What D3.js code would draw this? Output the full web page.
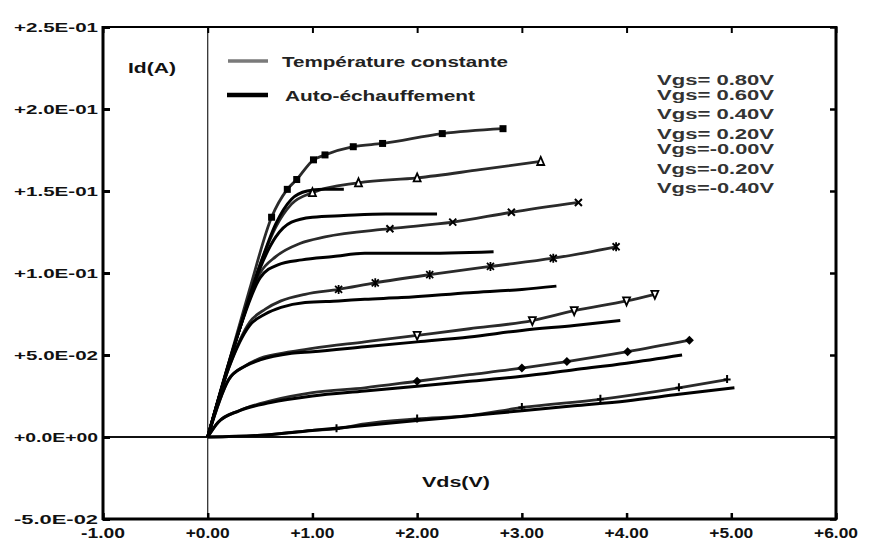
<!DOCTYPE html>
<html><head><meta charset="utf-8">
<script src="https://cdn.jsdelivr.net/npm/d3@7"></script>
<style>
html,body{margin:0;padding:0;background:#fff;}
svg{display:block;}
text{font-family:"Liberation Sans",Arial,sans-serif;font-weight:bold;}
</style></head>
<body>
<svg id="c" width="870" height="544"></svg>
<script>
// ---- data ----
const xTicks = [-1, 0, 1, 2, 3, 4, 5, 6];
const xTickLabels = ["-1.00", "+0.00", "+1.00", "+2.00", "+3.00", "+4.00", "+5.00", "+6.00"];
const yTicks = [-0.05, 0, 0.05, 0.10, 0.15, 0.20, 0.25];
const yTickLabels = ["-5.0E-02", "+0.0E+00", "+5.0E-02", "+1.0E-01", "+1.5E-01", "+2.0E-01", "+2.5E-01"];
const vgsLabels = ["Vgs= 0.80V", "Vgs= 0.60V", "Vgs= 0.40V", "Vgs= 0.20V", "Vgs=-0.00V", "Vgs=-0.20V", "Vgs=-0.40V"];
const legendLabels = ["Température constante", "Auto-échauffement"];
const xTitle = "Vds(V)";
const yTitle = "Id(A)";

// Constant temperature curves [Vds, Id]
const ct080 = [[0,0],[0.2,0.045],[0.4,0.09],[0.61,0.134],[0.76,0.151],[0.85,0.157],[1.01,0.169],[1.12,0.172],[1.39,0.177],[1.67,0.179],[2.24,0.185],[2.82,0.188]];
const ct060 = [[0,0],[0.3,0.065],[0.5,0.105],[0.65,0.128],[0.8,0.142],[1.0,0.149],[1.44,0.155],[2.0,0.158],[2.6,0.163],[3.18,0.168]];
const ct040 = [[0,0],[0.3,0.065],[0.5,0.10],[0.65,0.11],[0.88,0.118],[1.12,0.122],[1.74,0.127],[2.34,0.131],[2.9,0.137],[3.54,0.143]];
const ct020 = [[0,0],[0.2,0.042],[0.4,0.07],[0.55,0.078],[0.7,0.083],[0.93,0.087],[1.25,0.090],[1.6,0.094],[2.12,0.099],[2.7,0.104],[3.3,0.109],[3.9,0.116]];
const ct000 = [[0,0],[0.2,0.035],[0.35,0.043],[0.5,0.048],[0.8,0.052],[1.0,0.054],[1.5,0.058],[2.0,0.062],[2.5,0.066],[3.1,0.071],[3.5,0.077],[4.0,0.083],[4.27,0.087]];
const ctm020 = [[0,0],[0.1,0.009],[0.3,0.016],[0.6,0.022],[1.0,0.027],[1.5,0.030],[2.0,0.034],[2.5,0.038],[3.0,0.042],[3.43,0.046],[4.01,0.052],[4.6,0.059]];
const ctm040 = [[0,0],[0.5,0.001],[1.0,0.004],[1.23,0.005],[1.5,0.008],[2.0,0.011],[2.5,0.013],[3.0,0.018],[3.75,0.023],[4.5,0.030],[4.96,0.035]];

// Self-heating curves [Vds, Id]
const sh080 = [[0,0],[0.3,0.065],[0.5,0.105],[0.65,0.13],[0.8,0.145],[0.95,0.150],[1.1,0.151],[1.3,0.151]];
const sh060 = [[0,0],[0.3,0.065],[0.5,0.103],[0.65,0.122],[0.8,0.131],[1.0,0.134],[1.3,0.135],[1.7,0.136],[2.19,0.136]];
const sh040 = [[0,0],[0.3,0.065],[0.5,0.097],[0.67,0.105],[0.9,0.108],[1.2,0.110],[1.5,0.112],[2.0,0.112],[2.73,0.113]];
const sh020 = [[0,0],[0.2,0.042],[0.4,0.068],[0.55,0.075],[0.7,0.079],[0.93,0.082],[1.25,0.083],[1.5,0.084],[1.85,0.085],[2.5,0.088],[3.0,0.090],[3.33,0.092]];
const sh000 = [[0,0],[0.2,0.035],[0.35,0.043],[0.5,0.047],[0.8,0.051],[1.0,0.052],[1.5,0.055],[2.0,0.058],[2.5,0.061],[3.0,0.065],[3.5,0.068],[3.94,0.071]];
const shm020 = [[0,0],[0.1,0.009],[0.3,0.016],[0.6,0.021],[1.0,0.025],[1.5,0.028],[2.0,0.031],[2.5,0.034],[3.0,0.037],[3.5,0.041],[4.0,0.045],[4.53,0.050]];
const shm040 = [[0,0],[0.5,0.001],[1.0,0.004],[1.5,0.007],[2.0,0.010],[2.5,0.013],[3.0,0.016],[3.5,0.019],[4.0,0.022],[4.5,0.026],[5.03,0.030]];

const constCurves = [ct080, ct060, ct040, ct020, ct000, ctm020, ctm040];
const shCurves = [sh080, sh060, sh040, sh020, sh000, shm020, shm040];
// indices of points carrying a marker on each constant-temperature curve
const markIdx = [[3,4,5,6,7,8,9,10,11],[5,6,7,9],[6,7,8,9],[6,7,8,9,10,11],[7,9,10,11,12],[6,8,9,10,11],[3,5,7,8,9,10]];
const markShapes = ["square","triangle","cross","asterisk","triangleDown","diamond","plus"];

// ---- drawing ----
const svg = d3.select("#c");
const L = 103, R = 836, T = 27, B = 519;
const x = d3.scaleLinear().domain([-1, 6]).range([L, R]);
const y = d3.scaleLinear().domain([-0.05, 0.25]).range([B, T]);

// zero lines
svg.append("line").attr("x1", x(0)).attr("x2", x(0)).attr("y1", T).attr("y2", B)
  .attr("stroke", "#222").attr("stroke-width", 1.2);
svg.append("line").attr("x1", L).attr("x2", R).attr("y1", y(0)).attr("y2", y(0))
  .attr("stroke", "#111").attr("stroke-width", 2);

// curves
const line = d3.line().x(d => x(d[0])).y(d => y(d[1])).curve(d3.curveMonotoneX);
const gC = svg.append("g");
constCurves.forEach(c => {
  gC.append("path").attr("d", line(c)).attr("fill", "none")
    .attr("stroke", "#2a2a2a").attr("stroke-width", 2.8).attr("stroke-linejoin", "round");
});
shCurves.forEach(c => {
  gC.append("path").attr("d", line(c)).attr("fill", "none")
    .attr("stroke", "#000").attr("stroke-width", 3).attr("stroke-linejoin", "round");
});

// markers
function marker(g, shape, px, py) {
  const s = 3.5;
  if (shape === "square") g.append("rect").attr("x", px - s).attr("y", py - s).attr("width", 2*s).attr("height", 2*s).attr("fill", "#000");
  else if (shape === "triangle") g.append("path").attr("d", `M${px},${py-s-1}L${px+s},${py+s}L${px-s},${py+s}Z`).attr("fill", "#fff").attr("stroke", "#000").attr("stroke-width", 1.8);
  else if (shape === "triangleDown") g.append("path").attr("d", `M${px},${py+s+1}L${px+s},${py-s}L${px-s},${py-s}Z`).attr("fill", "#fff").attr("stroke", "#000").attr("stroke-width", 1.8);
  else if (shape === "diamond") g.append("path").attr("d", `M${px},${py-s-1}L${px+s+1},${py}L${px},${py+s+1}L${px-s-1},${py}Z`).attr("fill", "#000");
  else if (shape === "cross") g.append("path").attr("d", `M${px-s},${py-s}L${px+s},${py+s}M${px+s},${py-s}L${px-s},${py+s}`).attr("stroke", "#000").attr("stroke-width", 2);
  else if (shape === "asterisk") g.append("path").attr("d", `M${px-s},${py-s}L${px+s},${py+s}M${px+s},${py-s}L${px-s},${py+s}M${px},${py-s-1}L${px},${py+s+1}`).attr("stroke", "#000").attr("stroke-width", 1.8);
  else g.append("path").attr("d", `M${px-s},${py}L${px+s},${py}M${px},${py-s-1}L${px},${py+s}`).attr("stroke", "#000").attr("stroke-width", 2);
}
const gM = svg.append("g");
constCurves.forEach((c, i) => {
  markIdx[i].forEach(k => marker(gM, markShapes[i], x(c[k][0]), y(c[k][1])));
});

// frame
svg.append("line").attr("x1", L - 1).attr("x2", R + 1).attr("y1", T).attr("y2", T).attr("stroke", "#000").attr("stroke-width", 2);
svg.append("line").attr("x1", L - 1).attr("x2", R + 1).attr("y1", B).attr("y2", B).attr("stroke", "#000").attr("stroke-width", 3);
svg.append("line").attr("x1", L).attr("x2", L).attr("y1", T - 1).attr("y2", B + 1).attr("stroke", "#000").attr("stroke-width", 3);
svg.append("line").attr("x1", R).attr("x2", R).attr("y1", T - 1).attr("y2", B + 1).attr("stroke", "#000").attr("stroke-width", 3);

// axes via d3 axis generators (ticks inward)
const yAxisL = d3.axisRight(y).tickValues(yTicks).tickSize(7).tickFormat("");
svg.append("g").attr("transform", `translate(${L},0)`).call(yAxisL)
  .call(g => { g.select(".domain").remove(); g.selectAll("line").attr("stroke-width", 3); });
const yAxisR = d3.axisLeft(y).tickValues(yTicks).tickSize(6).tickFormat("");
svg.append("g").attr("transform", `translate(${R},0)`).call(yAxisR)
  .call(g => { g.select(".domain").remove(); g.selectAll("line").attr("stroke-width", 2.5); });
const xAxisB = d3.axisTop(x).tickValues(xTicks).tickSize(6).tickFormat("");
svg.append("g").attr("transform", `translate(0,${B})`).call(xAxisB)
  .call(g => { g.select(".domain").remove(); g.selectAll("line").attr("stroke-width", 2.5); });
const xAxisT = d3.axisBottom(x).tickValues(xTicks).tickSize(6).tickFormat("");
svg.append("g").attr("transform", `translate(0,${T})`).call(xAxisT)
  .call(g => { g.select(".domain").remove(); g.selectAll("line").attr("stroke-width", 2); });

// tick labels
svg.append("g").selectAll("text").data(yTicks).join("text")
  .attr("x", 98).attr("y", d => y(d) + 5).attr("text-anchor", "end")
  .attr("font-size", 13.5).attr("fill", "#111")
  .attr("textLength", 84).attr("lengthAdjust", "spacingAndGlyphs")
  .text((d, i) => yTickLabels[i]);
svg.append("g").selectAll("text").data(xTicks).join("text")
  .attr("x", d => x(d)).attr("y", 538).attr("text-anchor", "middle")
  .attr("font-size", 14).attr("fill", "#111")
  .attr("textLength", 44).attr("lengthAdjust", "spacingAndGlyphs")
  .text((d, i) => xTickLabels[i]);

// axis titles
svg.append("text").attr("x", 128).attr("y", 73).attr("font-size", 14).attr("fill", "#111")
  .attr("textLength", 48).attr("lengthAdjust", "spacingAndGlyphs").text(yTitle);
svg.append("text").attr("x", 422).attr("y", 487).attr("font-size", 14).attr("fill", "#111")
  .attr("textLength", 68).attr("lengthAdjust", "spacingAndGlyphs").text(xTitle);

// legend
svg.append("line").attr("x1", 228).attr("x2", 268).attr("y1", 61).attr("y2", 61).attr("stroke", "#7a7a7a").attr("stroke-width", 3.5);
svg.append("line").attr("x1", 227).attr("x2", 268).attr("y1", 95).attr("y2", 95).attr("stroke", "#000").attr("stroke-width", 4.5);
svg.append("text").attr("x", 282).attr("y", 67).attr("font-size", 14).attr("fill", "#222")
  .attr("textLength", 226).attr("lengthAdjust", "spacingAndGlyphs").text(legendLabels[0]);
svg.append("text").attr("x", 285).attr("y", 101).attr("font-size", 14).attr("fill", "#222")
  .attr("textLength", 190).attr("lengthAdjust", "spacingAndGlyphs").text(legendLabels[1]);

// Vgs labels
const vgsY = [80, 95, 114, 134, 149, 169, 188];
svg.append("g").selectAll("text").data(vgsLabels).join("text")
  .attr("x", 657).attr("y", (d, i) => vgsY[i] + 5).attr("font-size", 14.5).attr("fill", "#333")
  .attr("textLength", 117).attr("lengthAdjust", "spacingAndGlyphs")
  .text(d => d);
</script>
</body></html>
